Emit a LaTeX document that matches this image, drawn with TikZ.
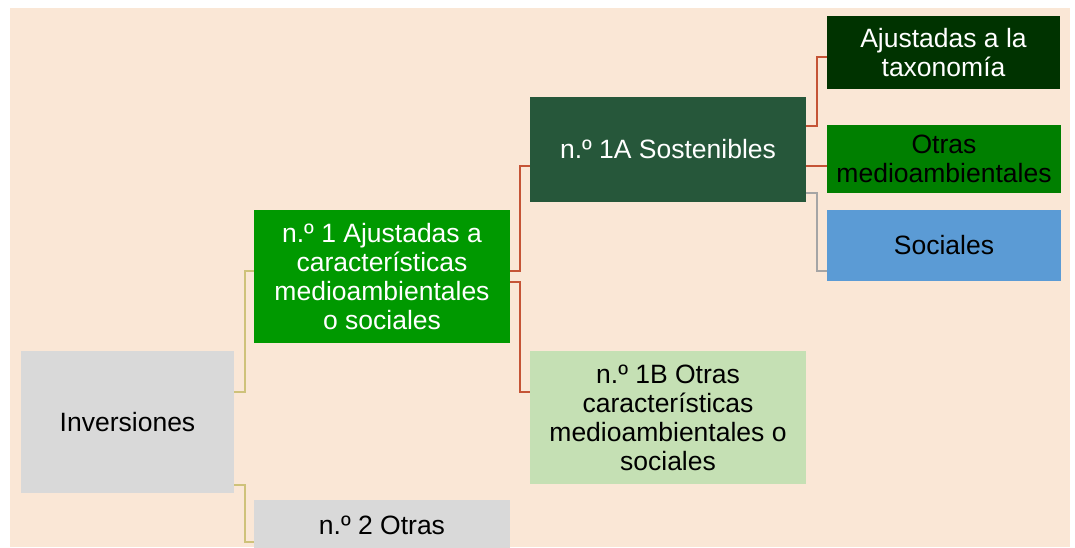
\documentclass[tikz,border=0pt]{standalone}
\usepackage{fontspec}
\setmainfont{Liberation Sans}
\definecolor{peach}{RGB}{250,231,214}
\definecolor{boxgray}{RGB}{217,217,217}
\definecolor{gA}{RGB}{0,153,0}
\definecolor{gB}{RGB}{38,87,58}
\definecolor{gC}{RGB}{0,51,0}
\definecolor{gD}{RGB}{0,127,0}
\definecolor{lgreen}{RGB}{197,224,180}
\definecolor{blueS}{RGB}{91,155,213}
\definecolor{redL}{RGB}{197,84,54}
\definecolor{yelL}{RGB}{206,194,122}
\definecolor{grayL}{RGB}{165,165,165}
\tikzset{
  box/.style={rectangle, inner sep=0pt, align=center, font=\fontsize{26.5}{29}\selectfont},
  conn/.style={line width=2pt},
}
\begin{document}
\begin{tikzpicture}[x=1pt,y=-1pt]
\useasboundingbox (0,0) rectangle (1075,547);
\fill[white] (0,0) rectangle (1075,547);
\fill[peach] (10,8) rectangle (1070,547);

\node[box, fill=boxgray, text=black, minimum width=213pt, minimum height=142pt] (inv) at (127.5,422) {Inversiones};
\node[box, fill=gA, text=white, minimum width=256pt, minimum height=133pt] (n1) at (382,276.5) {n.º 1 Ajustadas a\\características\\medioambientales\\o sociales};
\node[box, fill=boxgray, text=black, minimum width=256pt, minimum height=50pt] (n2) at (382,525) {n.º 2 Otras};
\node[box, fill=gB, text=white, minimum width=276pt, minimum height=105pt] (a1) at (668,149.5) {n.º 1A Sostenibles};
\node[box, fill=lgreen, text=black, minimum width=276pt, minimum height=133pt] (b1) at (668,417.5) {n.º 1B Otras\\características\\medioambientales o\\sociales};
\node[box, fill=gC, text=white, minimum width=233pt, minimum height=73pt] (aj) at (943.5,52.5) {Ajustadas a la\\taxonomía};
\node[box, fill=gD, text=black, minimum width=234pt, minimum height=68pt] (ot) at (944,159) {Otras\\medioambientales};
\node[box, fill=blueS, text=black, minimum width=234pt, minimum height=71pt] (so) at (944,245.5) {Sociales};

\draw[conn, yelL] ([yshift=30pt]inv.east) -- ++(11,0) |- ([yshift=5.5pt]n1.west);
\draw[conn, yelL] ([yshift=-63pt]inv.east) -- ++(11,0) |- ([yshift=-17pt]n2.west);
\draw[conn, redL] ([yshift=5.5pt]n1.east) -- ++(10,0) |- ([yshift=-16.5pt]a1.west);
\draw[conn, redL] ([yshift=-5.5pt]n1.east) -- ++(10,0) |- ([yshift=25.5pt]b1.west);
\draw[conn, redL] ([yshift=23.5pt]a1.east) -- ++(11,0) |- ([yshift=-4.5pt]aj.west);
\draw[conn, redL] ([yshift=-16.5pt]a1.east) -- ([yshift=-7pt]ot.west);
\draw[conn, grayL] ([yshift=-43.5pt]a1.east) -- ++(11,0) |- ([yshift=-25.5pt]so.west);
\end{tikzpicture}
\end{document}
